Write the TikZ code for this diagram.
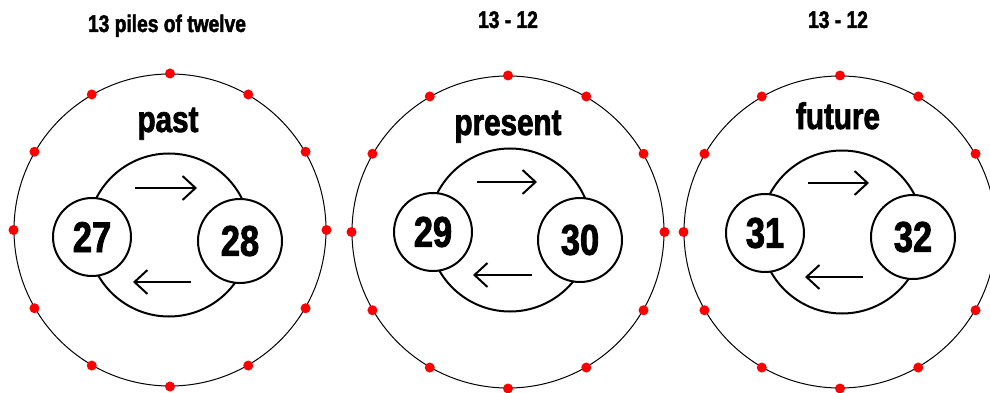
\documentclass[tikz,border=0pt]{standalone}
\usepackage{fontspec}
\setmainfont{Liberation Sans}[FakeStretch=0.8, FakeBold=2]
\usetikzlibrary{arrows.meta,positioning}

\begin{document}
\begin{tikzpicture}[%
    x=1pt, y=-1pt,
    >={Straight Barb[length=13pt,width=24pt]},
    node distance=77pt,
    on grid,
    ring/.style={circle, draw, line width=1pt, minimum size=312pt, inner sep=0pt},
    dot/.style={circle, fill=red, minimum size=10pt, inner sep=0pt},
    loopring/.style={circle, draw, line width=2pt, minimum size=163pt, inner sep=0pt},
    pile/.style={circle, draw, fill=white, line width=2pt, minimum size=78pt, inner sep=0pt,
        font=\fontsize{43}{43}\selectfont\bfseries},
    bigpile/.style={pile, minimum size=84pt},
    word/.style={anchor=base, font=\fontsize{37}{37}\selectfont\bfseries},
    title/.style={anchor=base, font=\fontsize{24}{24}\selectfont\bfseries},
    every edge/.style={draw, line width=2pt}
    ]
    \useasboundingbox (0,0) rectangle (990,393);

    % past
    \node[title] (t1) at (167,32) {13 piles of twelve};
    \node[ring] (r1) at (170,230) {};
    \foreach \a in {0,30,...,330} \node[dot] (d1-\a) at (r1.\a) {};
    \node[word] (past) at (168,132) {past};
    \node[loopring] (l1) at (169,235) {};
    \node[pile] (27) [below left=2pt and 77pt of l1] {27};
    \node[bigpile] (28) [below right=6pt and 71pt of l1] {28};
    \coordinate (a1) at ([shift={(-34,-47)}]l1.center);
    \coordinate (b1) at ([shift={(28,-47)}]l1.center);
    \coordinate (c1) at ([shift={(22,47)}]l1.center);
    \coordinate (e1) at ([shift={(-36,47)}]l1.center);
    \path[->] (a1) edge (b1) (c1) edge (e1);

    % present
    \node[title] (t2) at (508,28) {13 - 12};
    \node[ring] (r2) at (508,232) {};
    \foreach \a in {0,30,...,330} \node[dot] (d2-\a) at (r2.\a) {};
    \node[word] (present) at (508,135) {present};
    \node[loopring] (l2) at (510,230) {};
    \node[pile] (29) [below left=2pt and 77pt of l2] {29};
    \node[bigpile] (30) [below right=10pt and 70pt of l2] {30};
    \coordinate (a2) at ([shift={(-33,-48)}]l2.center);
    \coordinate (b2) at ([shift={(27,-48)}]l2.center);
    \coordinate (c2) at ([shift={(22,45)}]l2.center);
    \coordinate (e2) at ([shift={(-37,45)}]l2.center);
    \path[->] (a2) edge (b2) (c2) edge (e2);

    % future
    \node[title] (t3) at (838,28) {13 - 12};
    \node[ring] (r3) at (840,232) {};
    \foreach \a in {0,30,...,330} \node[dot] (d3-\a) at (r3.\a) {};
    \node[word] (future) at (838,129) {future};
    \node[loopring] (l3) at (842,232) {};
    \node[pile] (31) [below left=1pt and 77pt of l3] {31};
    \node[bigpile] (32) [below right=5pt and 71pt of l3] {32};
    \coordinate (a3) at ([shift={(-34,-49)}]l3.center);
    \coordinate (b3) at ([shift={(27,-49)}]l3.center);
    \coordinate (c3) at ([shift={(21,45)}]l3.center);
    \coordinate (e3) at ([shift={(-37,45)}]l3.center);
    \path[->] (a3) edge (b3) (c3) edge (e3);
\end{tikzpicture}
\end{document}
